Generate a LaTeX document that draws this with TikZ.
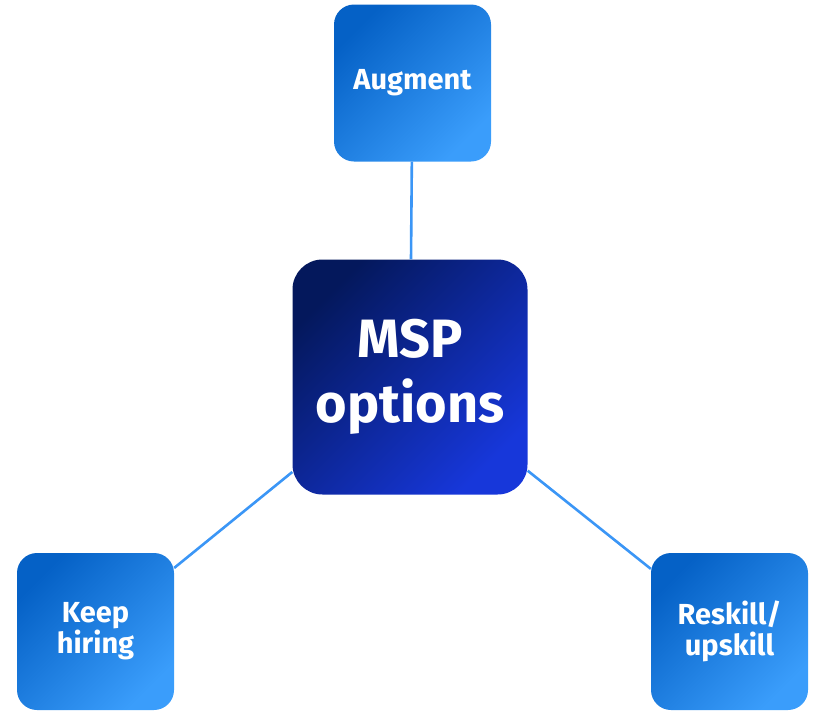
\documentclass[tikz,border=0pt]{standalone}
\usepackage{fontspec}
\setmainfont{Fira Sans}
\definecolor{navy}{HTML}{04185C}
\definecolor{royal}{HTML}{1737DA}
\definecolor{deepblue}{HTML}{0561C6}
\definecolor{skyblue}{HTML}{3A9DFB}
\definecolor{linkblue}{HTML}{3B96F6}
\begin{document}
\begin{tikzpicture}[x=1pt,y=-1pt,
   option/.style={rounded corners=20pt,minimum size=157pt,inner sep=0pt,align=center,text=white,
      font=\fontsize{29}{31}\selectfont\bfseries,top color=deepblue,bottom color=skyblue,shading angle=45},
   hub/.style={rounded corners=30pt,minimum size=235pt,inner sep=0pt,align=center,text=white,
      font=\fontsize{54}{65}\selectfont\bfseries,top color=navy,bottom color=royal,shading angle=45},
   link/.style={linkblue,line width=2.6pt}]
   \useasboundingbox (0,0) rectangle (813,710);
   % centre and the three options
   \node [hub] (msp) at (410,377) {MSP\\options};
   \node [option] (augment) at (412.5,83) {Augment};
   \node [option] (hiring) at (95.5,631.5) {Keep\\hiring};
   \node [option] (reskill) at (729.5,631.5) {Reskill/\\upskill};
   \draw [link] (msp) -- (augment);
   \draw [link] (msp) -- (hiring);
   \draw [link] (msp) -- (reskill);
\end{tikzpicture}
\end{document}
